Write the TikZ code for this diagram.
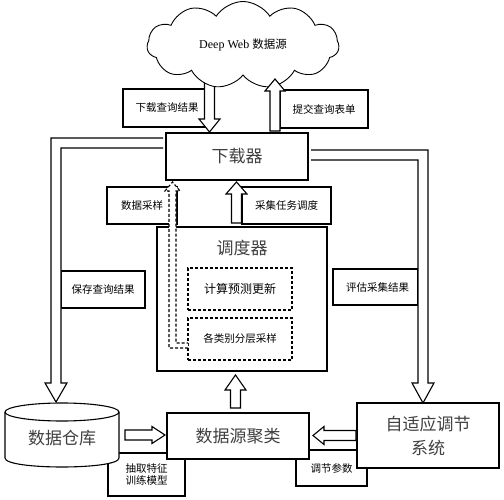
\documentclass[tikz,border=0pt]{standalone}
\usepackage{fontspec}
\setmainfont{Liberation Serif}
\newfontfamily\cjk{Noto Sans CJK SC}
\usetikzlibrary{shapes.symbols,shapes.geometric}
\newcommand{\vfat}[5]{% x, ybase, ytip, yheadbase, halfhead
  \fill[white] ({#1-5},#2) -- ({#1-5},#4) -- ({#1-#5},#4) -- (#1,#3) -- ({#1+#5},#4) -- ({#1+5},#4) -- ({#1+5},#2) -- cycle;
  \draw[fatline] ({#1-5},#2) -- ({#1-5},#4) -- ({#1-#5},#4) -- (#1,#3) -- ({#1+#5},#4) -- ({#1+5},#4) -- ({#1+5},#2) -- cycle;}
\newcommand{\hfat}[5]{% y, xbase, xtip, xheadbase, halfhead
  \fill[white] (#2,{#1-5}) -- (#4,{#1-5}) -- (#4,{#1-#5}) -- (#3,#1) -- (#4,{#1+#5}) -- (#4,{#1+5}) -- (#2,{#1+5}) -- cycle;
  \draw[fatline] (#2,{#1-5}) -- (#4,{#1-5}) -- (#4,{#1-#5}) -- (#3,#1) -- (#4,{#1+#5}) -- (#4,{#1+5}) -- (#2,{#1+5}) -- cycle;}
\begin{document}
\begin{tikzpicture}[x=1pt,y=-1pt,
  fatline/.style={line width=1.1pt,line join=miter},
  lbl/.style={draw,line width=1.1pt,fill=white,inner sep=0pt,font=\cjk\fontsize{10.5}{12}\selectfont},
  bigbox/.style={draw,line width=1.1pt,fill=white,inner sep=0pt,text=black!75,font=\cjk\fontsize{17}{20}\selectfont},
  dbox/.style={draw,line width=1.1pt,dashed,dash pattern=on 3pt off 2pt,fill=white,inner sep=0pt}]
\useasboundingbox (0,0) rectangle (504,500);
\fill[white] (0,0) rectangle (504,500);

% label boxes (behind)
\node[lbl,minimum width=82pt,minimum height=38pt] (l1) at (164,108) {\hspace*{6pt}下载查询结果};
\node[lbl,minimum width=88pt,minimum height=38pt] (l2) at (324,109) {提交查询表单};
\node[lbl,minimum width=70pt,minimum height=37pt] (l3) at (142,205.5) {数据采样};
\node[lbl,minimum width=89pt,minimum height=37pt] (l4) at (286.5,205.5) {采集任务调度};
\node[lbl,minimum width=84pt,minimum height=37pt] (l5) at (103,289.5) {保存查询结果};
\node[lbl,minimum width=85pt,minimum height=36pt] (l6) at (375.5,287) {\hspace*{4pt}评估采集结果};
\node[lbl,minimum width=77pt,minimum height=43pt,align=center] (l7) at (146.5,474.5) {抽取特征\\训练模型};
\node[lbl,minimum width=71pt,minimum height=36pt] (l8) at (331.5,468) {\raisebox{-2pt}{调节参数}};

% down arrow from cloud
\vfat{209.5}{70}{132}{119}{10.5}

% cloud
\node[cloud,cloud puffs=11,cloud puff arc=115,aspect=2.2,draw,line width=0.9pt,fill=white,
  minimum width=192pt,minimum height=87pt,inner sep=0pt] (web) at (243,45)
  {\fontsize{12}{14}\selectfont Deep Web {\cjk\fontsize{11.5}{14}\selectfont 数据源}};

% up arrow to cloud
\vfat{275}{131}{79}{91}{10}

% elbow fat arrows
\fill[white] (163,138) -- (51,138) -- (51,383) -- (45,383) -- (56,402) -- (67,383) -- (61,383) -- (61,148) -- (163,148) -- cycle;
\draw[fatline] (163,138) -- (51,138) -- (51,383) -- (45,383) -- (56,402) -- (67,383) -- (61,383) -- (61,148) -- (163,148);
\fill[white] (311,150) -- (428,150) -- (428,383) -- (434,383) -- (423,403) -- (412,383) -- (418,383) -- (418,160) -- (311,160) -- cycle;
\draw[fatline] (311,150) -- (428,150) -- (428,383) -- (434,383) -- (423,403) -- (412,383) -- (418,383) -- (418,160) -- (311,160);

% main boxes
\node[bigbox,minimum width=142pt,minimum height=47pt] (dl) at (237,156.5) {下载器};
\node[draw,line width=1.1pt,fill=white,minimum width=170pt,minimum height=144pt] (sch) at (242,299) {};
\node[text=black!75,font=\cjk\fontsize{17}{20}\selectfont] (schT) at (242,248) {调度器};
\node[dbox,minimum width=104pt,minimum height=42pt,font=\cjk\fontsize{12}{14}\selectfont] (d1) at (240,289) {计算预测更新};
\node[dbox,minimum width=104pt,minimum height=42pt,font=\cjk\fontsize{10.5}{12}\selectfont] (d2) at (240,339) {各类别分层采样};

\node[bigbox,minimum width=142pt,minimum height=46pt] (cl) at (238,436) {数据源聚类};
\node[bigbox,minimum width=142pt,minimum height=65pt,align=center] (ad) at (428,435.5) {自适应调节\\[4pt]系统};

% database cylinder
\fill[white] (5,412) -- (5,458) .. controls (5,470) and (119,470) .. (119,458) -- (119,412) -- cycle;
\fill[white] (62,412) ellipse [x radius=57pt, y radius=9pt];
\draw[line width=1.1pt] (5,412) -- (5,458) .. controls (5,470) and (119,470) .. (119,458) -- (119,412);
\draw[line width=1.1pt] (62,412) ellipse [x radius=57pt, y radius=9pt];
\node[text=black!75,font=\cjk\fontsize{17}{20}\selectfont] (db) at (62,438) {数据仓库};

% straight fat arrows
\vfat{236.5}{223}{182}{194}{10.5}
\vfat{235.5}{408}{375}{390}{10.5}
\hfat{435}{125}{165}{152}{8.5}
\hfat{435.5}{356}{313}{324}{9}

% dashed fat arrow
\fill[white] (188,348) -- (169,348) -- (169,191) -- (165,191) -- (172.5,182) -- (180,191) -- (176,191) -- (176,343) -- (188,343) -- cycle;
\draw[line width=1.1pt,dashed,dash pattern=on 3pt off 2pt] (188,348) -- (169,348) -- (169,191) -- (165,191) -- (172.5,182) -- (180,191) -- (176,191) -- (176,343) -- (188,343);
\end{tikzpicture}
\end{document}
